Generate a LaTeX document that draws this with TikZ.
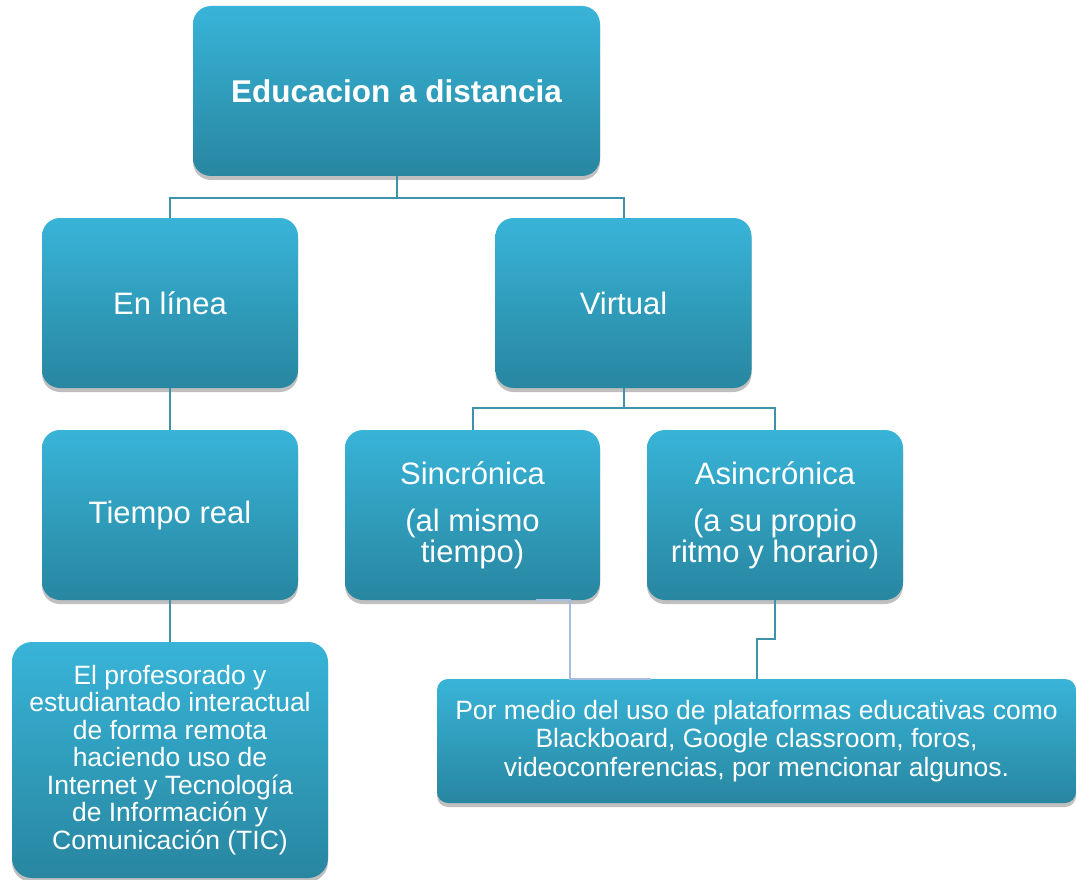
\documentclass[tikz,border=0pt]{standalone}
\usepackage{fontspec}
\setmainfont{Liberation Sans}
\usetikzlibrary{shadows}
\definecolor{boxtop}{RGB}{56,180,216}
\definecolor{boxbottom}{RGB}{40,134,160}
\definecolor{linkteal}{RGB}{62,146,170}
\definecolor{linkblue}{RGB}{165,189,224}

\begin{document}
\begin{tikzpicture}[x=1pt,y=-1pt,
	caja/.style={rounded corners=18pt, top color=boxtop, bottom color=boxbottom, text=white, align=center, inner sep=0pt,
		drop shadow={opacity=0.45, fill=black!55, shadow xshift=0pt, shadow yshift=-4pt}},
	link/.style={draw=linkteal, line width=2pt},
	linkclaro/.style={draw=linkblue, line width=2pt}]
	
	\fill[white] (0,0) rectangle (1077,880);
	\useasboundingbox (0,0) rectangle (1077,880);
	
	% nivel 1
	\node[caja, minimum width=407pt, minimum height=170pt, font=\fontsize{31.5}{34}\selectfont\bfseries] (edu) at (396.5,91)
		{Educacion a distancia};
	
	% nivel 2
	\node[caja, minimum width=256pt, minimum height=170pt, font=\fontsize{31}{34}\selectfont] (linea) at (170,303)
		{En línea};
	\node[caja, minimum width=256pt, minimum height=170pt, font=\fontsize{31}{34}\selectfont] (virtual) at (623.5,303)
		{Virtual};
	
	% nivel 3
	\node[caja, minimum width=256pt, minimum height=170pt, font=\fontsize{31}{34}\selectfont] (tiempo) at (170,515)
		{Tiempo real};
	\node[caja, minimum width=255pt, minimum height=170pt, font=\fontsize{31}{31}\selectfont] (sinc) at (472.5,515)
		{Sincrónica\\[16pt](al mismo\\tiempo)};
	\node[caja, minimum width=256pt, minimum height=170pt, font=\fontsize{31}{31}\selectfont] (asinc) at (775,515)
		{Asincrónica\\[16pt](a su propio\\ritmo y horario)};
	
	% nivel 4
	\node[caja, rounded corners=20pt, minimum width=316pt, minimum height=236pt, font=\fontsize{26.5}{27.5}\selectfont] (prof) at (170,760)
		{El profesorado y\\estudiantado interactual\\de forma remota\\haciendo uso de\\Internet y Tecnología\\de Información y\\Comunicación (TIC)};
	\node[caja, rounded corners=11pt, minimum width=639pt, minimum height=124pt, font=\fontsize{26.5}{28.5}\selectfont] (medio) at (756.5,741)
		{Por medio del uso de plataformas educativas como\\Blackboard, Google classroom, foros,\\videoconferencias, por mencionar algunos.};
	
	% conectores
	\draw[link] (edu.south) -- ++(0,22) -| (linea.north);
	\draw[link] (edu.south) -- ++(0,22) -| (virtual.north);
	\draw[link] (linea) -- (tiempo);
	\draw[link] (tiempo) -- (prof);
	\draw[link] (virtual.south) -- ++(0,20) -| (sinc.north);
	\draw[link] (virtual.south) -- ++(0,20) -| (asinc.north);
	\draw[link] (asinc.south) -- ++(0,39) -| (medio.north);
	\draw[linkclaro] ([xshift=63pt]sinc.south) -- ++(34,0) |- ([xshift=-106pt]medio.north);
	
\end{tikzpicture}
\end{document}
